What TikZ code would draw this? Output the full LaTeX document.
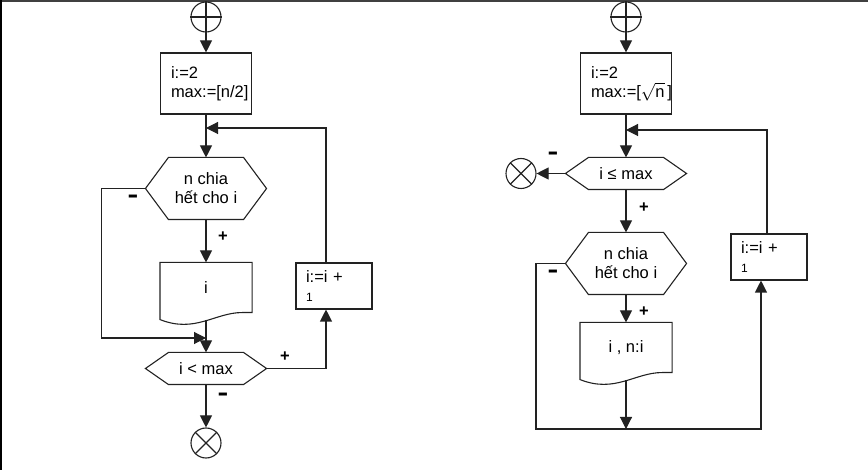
\documentclass[tikz,border=0pt]{standalone}
\usepackage{fontspec}
\usepackage{graphicx}
\setmainfont{Liberation Sans}
\usetikzlibrary{arrows.meta, calc}
\definecolor{cline}{HTML}{222222}
\tikzset{
  every picture/.style={line width=1.1pt, x=1pt, y=-1pt},
  txt/.style={font=\fontsize{16.5}{19}\selectfont, text=black},
  term/.style={draw=cline, circle, minimum size=30pt, inner sep=0pt},
  box/.style={draw=cline, rectangle, txt, align=left, text width=#1, inner ysep=0pt},
  hexa/.style={rectangle, minimum width=120pt, minimum height=#1, inner sep=0pt, txt, align=center},
  doc/.style={rectangle, minimum width=91pt, minimum height=49pt, inner sep=0pt, txt},
  arrow/.style={draw=cline, -{Triangle[length=12pt, width=12pt]}},
  sign/.style={font=\fontsize{16.5}{19}\selectfont\bfseries, inner sep=0pt},
}
\newcommand{\minus}{\scalebox{1}[1.8]{--}}

\begin{document}
\begin{tikzpicture}
  \useasboundingbox (0,0) rectangle (868,470);
  \draw[line width=2.5pt, black!75] (0,1) -- (868,1);
  \draw[line width=2pt, black] (1,0) -- (1,470);
  % left: i from 2 to n/2
  \node[term] (s1) at (206,17) {};
  \node[box=80pt, inner xsep=5.5pt, minimum height=61pt] (init1) at (206,83.5) {\hspace*{5pt}i:=2\\\hspace*{5pt}max:=[n/2]};
  \node[hexa=61pt] (test1) at (206,188.5) {n chia\\hết cho i};
  \node[doc] (out1) at (206,287.5) {i};
  \node[hexa=31pt] (cond1) at (206,368.5) {i {\textless} max};
  \node[box=56pt, inner xsep=10pt, minimum height=46pt] (inc1) at (334,286) {i:=i +\\{\fontsize{12}{14}\selectfont 1}};
  \node[term] (e1) at (206,443) {};
  \coordinate (j1) at (206,128);
  \coordinate (m1) at (206,338);
  \draw[arrow] (s1) -- (init1);
  \draw[arrow] (init1) -- (test1);
  \draw[arrow] ([xshift=-8pt]inc1.north) |- (j1);
  \draw[arrow] (test1) -- (out1);
  \draw[arrow] (test1.west) -- ++(-44,0) |- (m1);
  \draw[arrow] ($(out1.south)+(0,7.5)$) -- (cond1);
  \draw[arrow] (cond1.east) -| ([xshift=-8pt]inc1.south);
  \draw[arrow] (cond1) -- (e1);
  \node[sign] (l1) at (133,200) {\minus};
  \node[sign] (l2) at (223,237) {+};
  \node[sign] (l3) at (285,357) {+};
  \node[sign] (l4) at (223,398) {\minus};
  % right: i from 2 to sqrt n
  \node[term] (s2) at (626,17) {};
  \node[box=80pt, inner xsep=5.5pt, minimum height=61pt] (init2) at (626,83.5) {\hspace*{5pt}i:=2\\\hspace*{5pt}max:=[$\sqrt{\mbox{n}}$\,]};
  \node[hexa=31pt] (cond2) at (626,173.5) {i ≤ max};
  \node[hexa=61pt] (test2) at (626,263.5) {n chia\\hết cho i};
  \node[doc] (out2) at (626,347.5) {i , n:i};
  \node[box=56pt, inner xsep=10pt, minimum height=46pt] (inc2) at (769,257) {i:=i +\\{\fontsize{12}{14}\selectfont 1}};
  \node[term] (e2) at (521,173.5) {};
  \coordinate (j2) at (626,130);
  \coordinate (m2) at (626,429);
  \coordinate (m2l) at (536,429);
  \draw[arrow] (s2) -- (init2);
  \draw[arrow] (init2) -- (cond2);
  \draw[arrow] ([xshift=-2pt]inc2.north) |- (j2);
  \draw[arrow] (cond2.west) -- (e2);
  \draw[arrow] (cond2) -- (test2);
  \draw[arrow] (test2) -- (out2);
  \draw[arrow] ($(out2.south)+(0,7.5)$) -- (m2);
  \draw[arrow] (test2.west) -| (m2l) -| ([xshift=-8pt]inc2.south);
  \node[sign] (r1) at (553,157) {\minus};
  \node[sign] (r2) at (644,208) {+};
  \node[sign] (r3) at (553,275) {\minus};
  \node[sign] (r4) at (644,312) {+};
  % outlines of the hexagons, documents and terminals
  \foreach \h in {test1,cond1,cond2,test2}
    \draw[cline] ([xshift=23pt]\h.north west) -- ([xshift=-23pt]\h.north east) -- (\h.east)
      -- ([xshift=-23pt]\h.south east) -- ([xshift=23pt]\h.south west) -- (\h.west) -- cycle;
  \foreach \d in {out1,out2}
    \draw[cline] (\d.north west) -- (\d.north east) -- (\d.south east) -- ([xshift=-10pt]\d.south east)
      .. controls +(-27,0) and +(35,14) .. ($(\d.south west)+(0,7)$) -- cycle;
  \foreach \s in {s1,s2}
    \draw[cline] (\s.north) -- (\s.south) (\s.west) -- (\s.east);
  \foreach \e in {e1,e2}
    \draw[cline] (\e.north west) -- (\e.south east) (\e.north east) -- (\e.south west);
\end{tikzpicture}
\end{document}
